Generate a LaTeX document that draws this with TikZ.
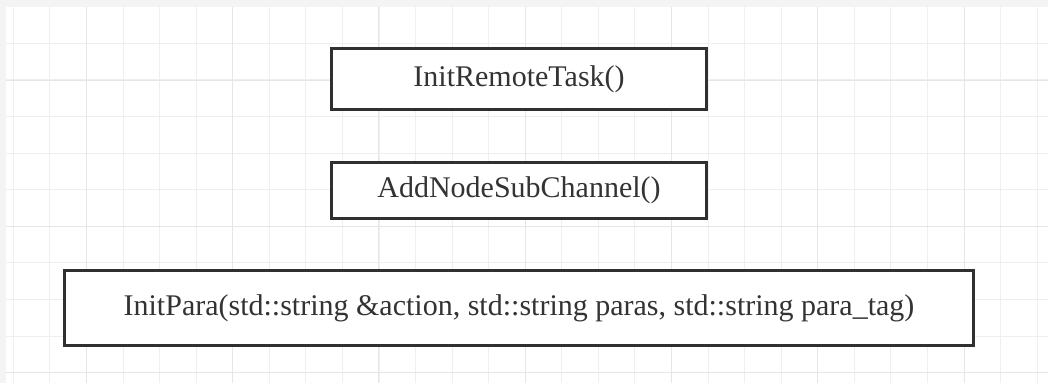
\documentclass[tikz,border=0pt]{standalone}
\usepackage{fontspec}
\setmainfont{Liberation Serif}
\definecolor{bandgray}{HTML}{F4F4F4}
\definecolor{minorgrid}{HTML}{EFEFEF}
\definecolor{majorgrid}{HTML}{E6E6E6}
\definecolor{boxline}{HTML}{303030}
\definecolor{labeltext}{HTML}{333333}
\begin{document}
\begin{tikzpicture}[x=1pt,y=-1pt,
  box/.style={draw=boxline, line width=3.2pt, fill=white, inner sep=0pt,
    font=\fontsize{30}{36}\selectfont, text=labeltext},
  minorline/.style={draw=minorgrid, line width=1pt},
  majorline/.style={draw=majorgrid, line width=1pt}]
\useasboundingbox (0,0) rectangle (1048,383);
% canvas with grey frame band on top and left
\fill[bandgray] (0,0) rectangle (1048,383);
\fill[white] (6,7) rectangle (1048,383);
% minor grid, snapped to pixel centres
\foreach \i in {0,...,28}
  \draw[minorline] ({int(13.3+\i*36.57)+0.5},7) -- ({int(13.3+\i*36.57)+0.5},383);
\foreach \j in {0,...,9}
  \draw[minorline] (6,{int(43.3+\j*36.6)+0.5}) -- (1048,{int(43.3+\j*36.6)+0.5});
% major grid (every fourth line)
\foreach \i in {0,...,6}
  \draw[majorline] ({int(86.4+\i*146.28)+0.5},7) -- ({int(86.4+\i*146.28)+0.5},383);
\foreach \j in {0,...,2}
  \draw[majorline] (6,{int(80+\j*146.4)+0.5}) -- (1048,{int(80+\j*146.4)+0.5});
% function boxes
\node[box, minimum width=375pt, minimum height=61pt] (remote) at (519,79) {InitRemoteTask()};
\node[box, minimum width=375pt, minimum height=56pt] (subchan) at (519,190.5) {AddNodeSubChannel()};
\node[box, minimum width=909pt, minimum height=75pt] (initpara) at (519,308) {InitPara(std::string \&action, std::string paras, std::string para\_tag)};
\end{tikzpicture}
\end{document}
